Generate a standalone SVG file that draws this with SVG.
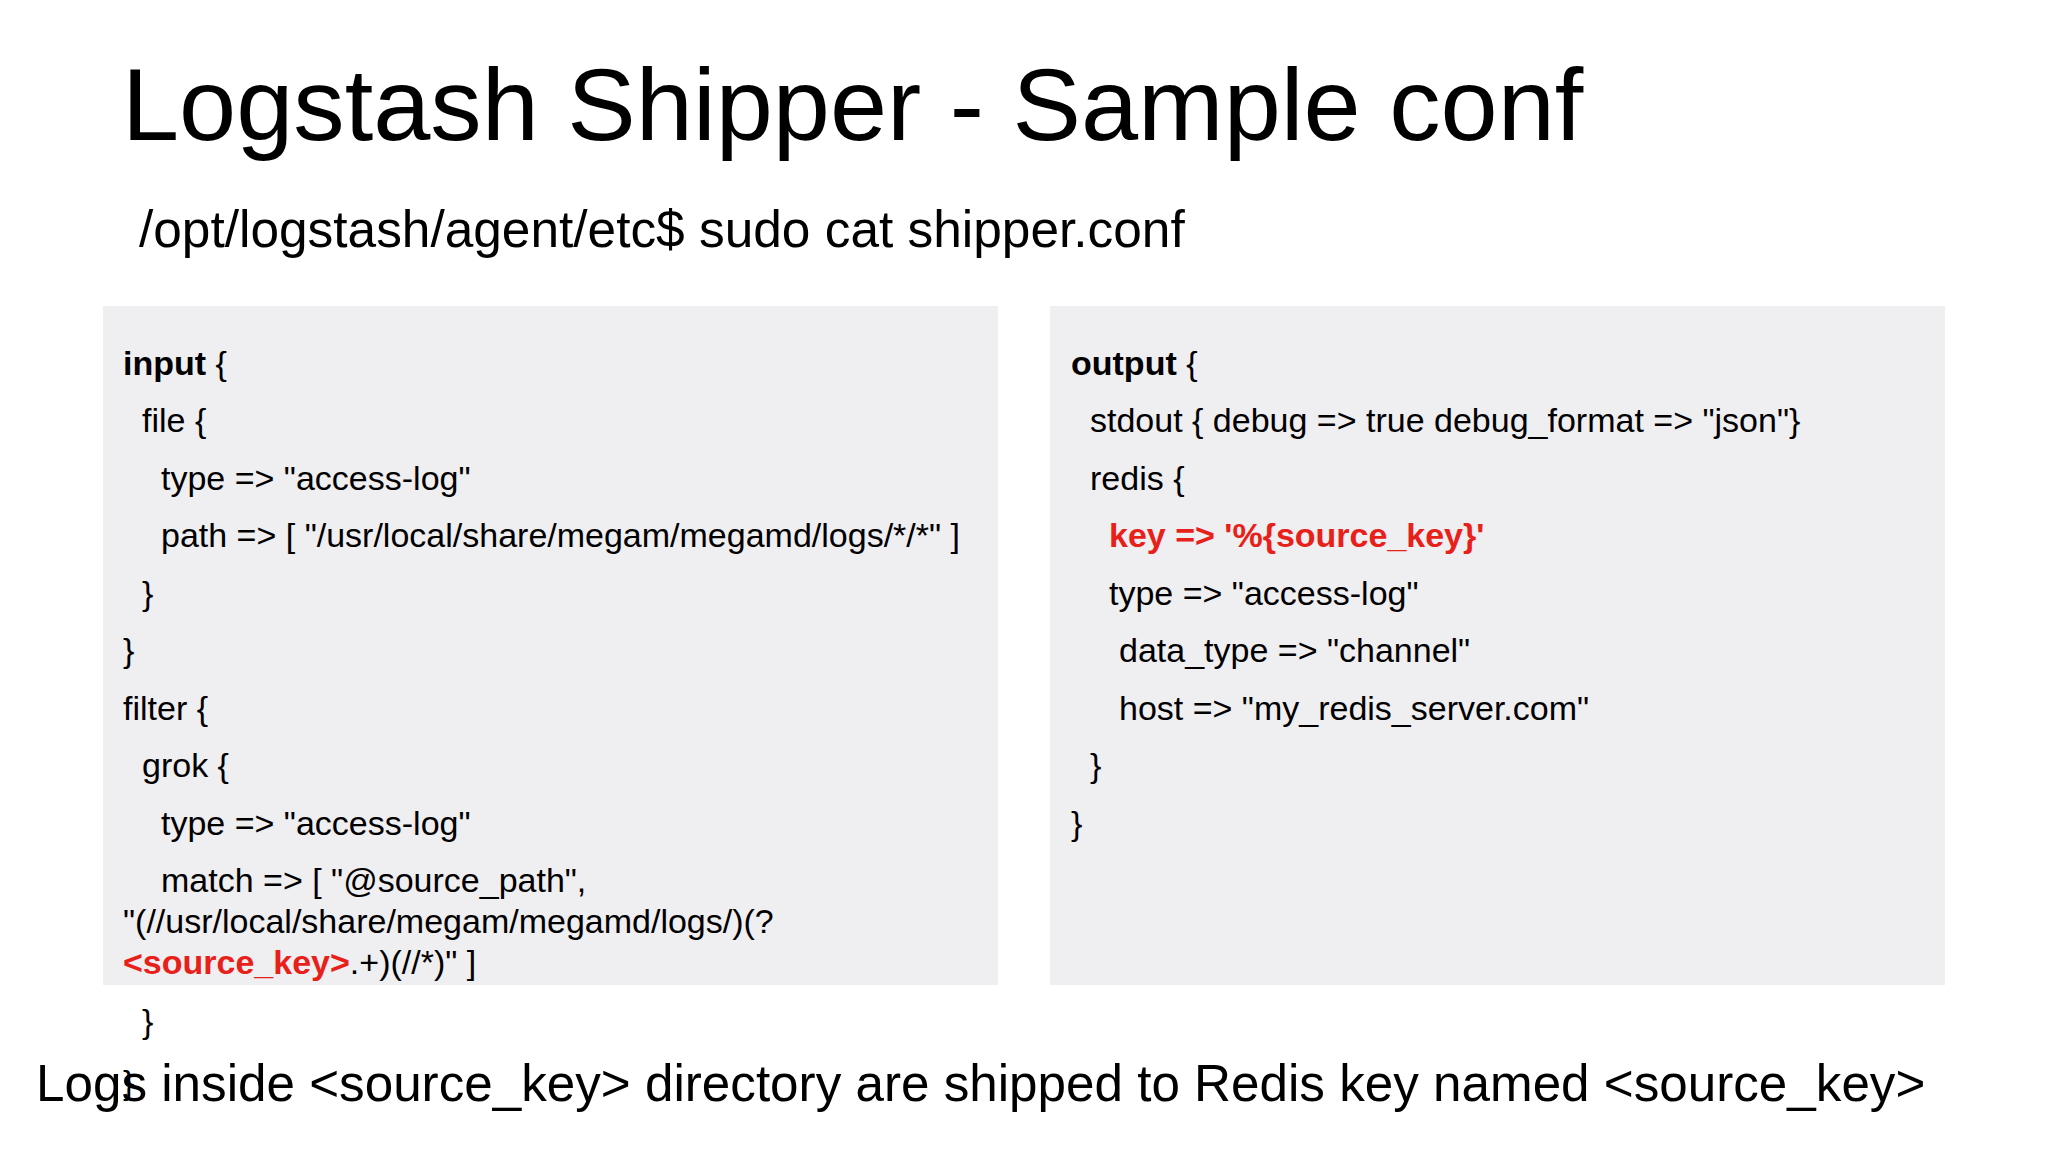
<svg xmlns="http://www.w3.org/2000/svg" width="2048" height="1152" viewBox="0 0 2048 1152">
<style>
text{font-family:"Liberation Sans",Arial,sans-serif;fill:#000}
.c{font-size:34px}
.b{font-weight:bold}
.r{fill:#e8201a;font-weight:bold}
.box{fill:#efeef0}
</style>
<rect width="2048" height="1152" fill="#fff"/>
<text x="122" y="140" font-size="102.7">Logstash Shipper - Sample conf</text>
<text x="139" y="247" font-size="51.4">/opt/logstash/agent/etc$ sudo cat shipper.conf</text>
<g id="input-box">
<rect class="box" x="103" y="306" width="895" height="679"/>
<text class="c" x="123" y="375"><tspan class="b">input</tspan> {</text>
<text class="c" x="142" y="432">file {</text>
<text class="c" x="161" y="490">type =&gt; "access-log"</text>
<text class="c" x="161" y="547">path =&gt; [ "/usr/local/share/megam/megamd/logs/*/*" ]</text>
<text class="c" x="142" y="605">}</text>
<text class="c" x="123" y="662">}</text>
<text class="c" x="123" y="720">filter {</text>
<text class="c" x="142" y="777">grok {</text>
<text class="c" x="161" y="835">type =&gt; "access-log"</text>
<text class="c" x="161" y="892">match =&gt; [ "@source_path",</text>
<text class="c" x="123" y="933">"(//usr/local/share/megam/megamd/logs/)(?</text>
<text class="c" x="123" y="974"><tspan class="r">&lt;source_key&gt;</tspan>.+)(//*)" ]</text>
<text class="c" x="142" y="1033">}</text>
<text class="c" x="123" y="1094">}</text>
</g>
<g id="output-box">
<rect class="box" x="1050" y="306" width="895" height="679"/>
<text class="c" x="1071" y="375"><tspan class="b">output</tspan> {</text>
<text class="c" x="1090" y="432">stdout { debug =&gt; true debug_format =&gt; "json"}</text>
<text class="c" x="1090" y="490">redis {</text>
<text class="c r" x="1109" y="547">key =&gt; '%{source_key}'</text>
<text class="c" x="1109" y="605">type =&gt; "access-log"</text>
<text class="c" x="1119" y="662">data_type =&gt; "channel"</text>
<text class="c" x="1119" y="720">host =&gt; "my_redis_server.com"</text>
<text class="c" x="1090" y="777">}</text>
<text class="c" x="1071" y="835">}</text>
</g>
<text x="36" y="1101" font-size="51.2">Logs inside &lt;source_key&gt; directory are shipped to Redis key named &lt;source_key&gt;</text>
</svg>
